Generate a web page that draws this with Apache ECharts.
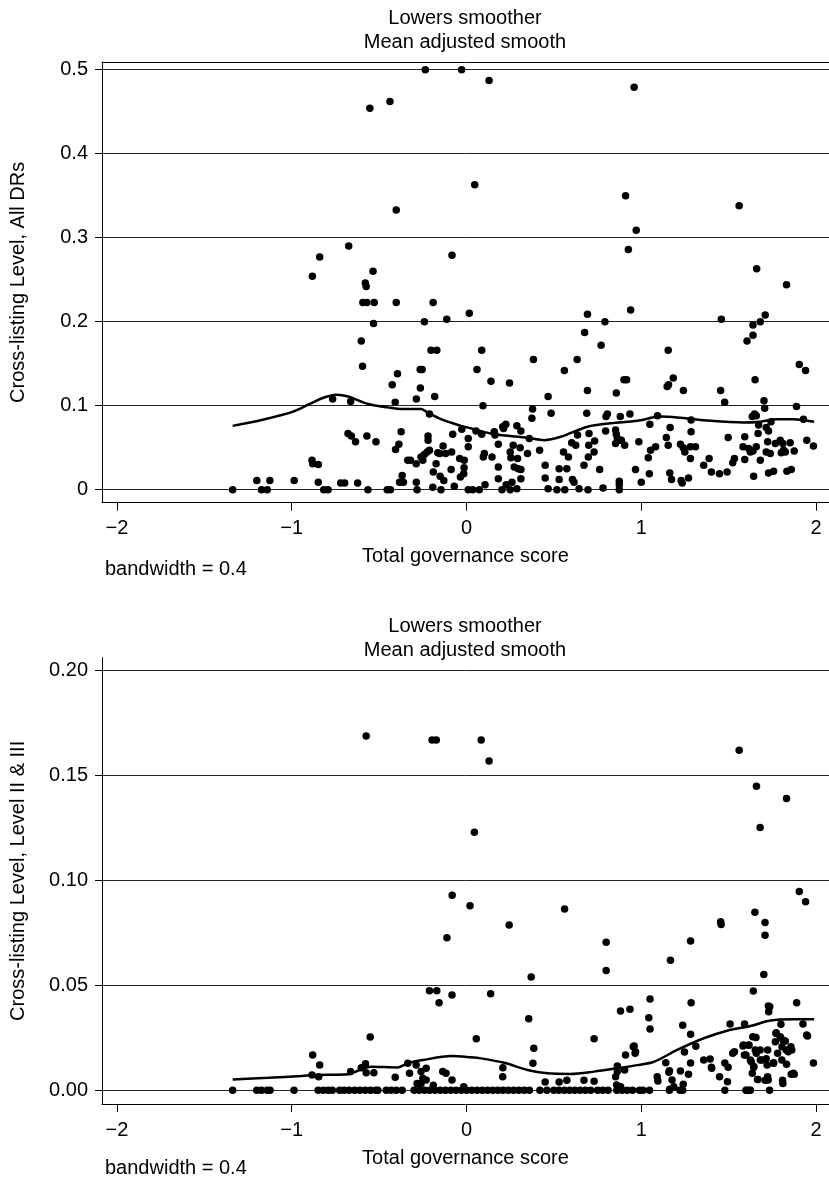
<!DOCTYPE html>
<html>
<head>
<meta charset="utf-8">
<title>Lowess smoother</title>
<script src="https://cdn.jsdelivr.net/npm/echarts@6/dist/echarts.min.js"></script>
<style>
  html, body { margin: 0; padding: 0; background: #fff; }
  #chart { width: 829px; height: 1183px; }
</style>
</head>
<body>
<div id="chart"></div>
<script>
// governance score (x) and cross-listing level, all DRs (y) - upper panel
const topX = [
  -1.338, -1.20, -1.173, -1.140, -1.125, -0.986, -0.882, -0.884, -0.880, -0.848,
  -0.848, -0.817, -0.792, -0.766, -0.720, -0.697, -0.678, -0.659, -0.663, -0.635,
  -0.623, -0.602, -0.595, -0.593, -0.570, -0.579, -0.574, -0.535, -0.528, -0.532,
  -0.570, -0.564, -0.518, -0.454, -0.435, -0.425, -0.408, -0.395, -0.402, -0.374,
  -0.387, -0.406, -0.368, -0.383, -0.361, -0.336, -0.321, -0.288, -0.287, -0.265,
  -0.254, -0.264, -0.287, -0.283, -0.260, -0.250, -0.241, -0.225, -0.212, -0.241,
  -0.220, -0.220, -0.212, -0.203, -0.170, -0.191, -0.182, -0.190, -0.174, -0.164,
  -0.193, -0.146, -0.151, -0.130, -0.134, -0.153, -0.119, -0.085, -0.113, -0.079,
  -0.039, -0.088, -0.070, -0.014, -0.035, -0.016, -0.027, 0.016, 0.010, 0.010,
  0.010, -0.013, 0.035, 0.073, 0.106, 0.054, 0.087, 0.102, 0.096, 0.146,
  0.159, 0.163, 0.182, 0.207, 0.225, 0.212, 0.182, 0.182, 0.203, 0.250,
  0.288, 0.227, 0.260, 0.250, 0.254, 0.267, 0.292, 0.307, 0.273, 0.296,
  0.311, 0.311, 0.288, 0.311, 0.349, 0.359, 0.418, 0.450, 0.450, 0.467,
  0.517, 0.562, 0.530, 0.530, 0.574, 0.555, 0.583, 0.602, 0.625, 0.635,
  0.606, 0.615, 0.644, 0.695, 0.672, 0.697, 0.730, 0.699, 0.701, 0.733,
  0.762, 0.781, 0.796, 0.853, 0.857, 0.863, 0.876, 0.853, 0.886, 0.905,
  0.874, 0.874, 0.874, 0.986, 0.967, 1.000, 1.046, 1.040, 1.053, 1.082,
  1.143, 1.154, 1.163, 1.173, 1.224, 1.240, 1.249, 1.281, 1.310, 1.281,
  1.228, 1.234, 1.270, 1.357, 1.388, 1.401, 1.447, 1.491, 1.497, 1.523,
  1.533, 1.592, 1.582, 1.592, 1.614, 1.639, 1.658, 1.624, 1.643, 1.668,
  1.671, 1.681, 1.715, 1.728, 1.723, 1.742, 1.715, 1.738, 1.728, 1.757,
  1.767, 1.795, 1.810, 1.824, 1.801, 1.852, 1.875, 1.814, 1.833, 1.858,
  1.947, 1.985, 0.087, 0.060, 0.140, 0.246, 0.094, 0.383, 0.467, 0.378,
  0.374, 0.484, 0.560, 0.633, 0.676, 0.692, 0.792, 0.770, 0.692, 0.688,
  0.857, 0.901, 0.916, 0.939, 0.798, 0.806, 0.880, 0.935, 1.154, 1.183,
  1.148, 1.156, 1.241, 1.093, 1.049, 1.165, 1.285, 1.285, 1.458, 1.454,
  1.477, 1.660, 1.831, 1.709, 1.681, 1.639, 1.639, 1.605, 1.651, 1.904,
  1.940, 1.702, 1.706, 1.648, 1.635, 1.658, 1.888, 1.928, -0.553, -0.438,
  -0.236, -0.028, 0.129, 0.959, 0.047, -0.402, 0.910, 1.560, 0.971, 0.926,
  -0.674, -0.840, -0.083
];
const topY = [
  0, 0.011, 0, 0, 0.011, 0.011, 0.254, 0.035, 0.031, 0.030,
  0.009, 0, 0, 0.108, 0.008, 0.008, 0.067, 0.064, 0.105, 0.057,
  0.008, 0.177, 0.147, 0.223, 0.223, 0.246, 0.242, 0.260, 0.223, 0.198,
  0.064, 0, 0.057, 0, 0, 0.125, 0.104, 0.138, 0.223, 0.069,
  0.054, 0.048, 0.017, 0.009, 0.009, 0.035, 0.035, 0.031, 0.108, 0.143,
  0.143, 0.121, 0.009, 0, 0.039, 0.035, 0.042, 0.045, 0.047, 0.200,
  0.064, 0.059, 0.090, 0.166, 0.166, 0.223, 0.111, 0.021, 0.031, 0.044,
  0.003, 0, 0.016, 0.011, 0.052, 0.043, 0.043, 0.045, 0.203, 0.066,
  0.037, 0.024, 0.004, 0.026, 0.015, 0.019, 0.072, 0.210, 0.061, 0.051,
  0, 0.035, 0, 0, 0.006, 0.070, 0.066, 0.043, 0.039, 0.039,
  0.069, 0.065, 0.054, 0.075, 0.078, 0.073, 0.027, 0.013, 0, 0,
  0.001, 0.006, 0.009, 0.045, 0.038, 0.053, 0.037, 0.050, 0.027, 0.025,
  0.024, 0.013, 0.076, 0.070, 0.043, 0.061, 0.047, 0.029, 0.014, 0.001,
  0, 0, 0.025, 0.012, 0.025, 0.045, 0.039, 0.056, 0.053, 0.065,
  0.012, 0.009, 0.001, 0, 0.029, 0.039, 0.045, 0.053, 0.067, 0.058,
  0.024, 0.002, 0.070, 0.071, 0.066, 0.061, 0.059, 0.055, 0.059, 0.053,
  0.010, 0.006, 0, 0.057, 0.024, 0.009, 0.019, 0.038, 0.047, 0.051,
  0.062, 0.053, 0.020, 0.012, 0.054, 0.050, 0.045, 0.051, 0.051, 0.037,
  0.011, 0.008, 0.014, 0.029, 0.037, 0.021, 0.019, 0.021, 0.062, 0.032,
  0.037, 0.063, 0.051, 0.036, 0.049, 0.046, 0.051, 0.045, 0.016, 0.067,
  0.077, 0.035, 0.074, 0.070, 0.057, 0.081, 0.045, 0.043, 0.020, 0.022,
  0.055, 0.059, 0.055, 0.045, 0.044, 0.056, 0.046, 0.047, 0.022, 0.024,
  0.059, 0.052, 0.166, 0.143, 0.129, 0.127, 0.100, 0.155, 0.111, 0.096,
  0.085, 0.091, 0.142, 0.155, 0.187, 0.209, 0.200, 0.172, 0.118, 0.091,
  0.115, 0.131, 0.131, 0.214, 0.087, 0.090, 0.087, 0.090, 0.166, 0.133,
  0.123, 0.125, 0.118, 0.088, 0.078, 0.074, 0.083, 0.069, 0.203, 0.118,
  0.104, 0.263, 0.244, 0.208, 0.200, 0.196, 0.184, 0.177, 0.131, 0.149,
  0.142, 0.106, 0.097, 0.090, 0.087, 0.088, 0.099, 0.084, 0.454, 0.462,
  0.500, 0.500, 0.487, 0.479, 0.363, 0.333, 0.350, 0.338, 0.309, 0.286,
  0.290, 0.277, 0.279
];
const smoothTopX = [-1.338, -1.173, -0.992, -0.888, -0.811, -0.745, -0.678, -0.564, -0.450, -0.374,
  -0.260, -0.231, -0.146, -0.031, 0.026, 0.159, 0.349, 0.444, 0.539, 0.692, 0.825, 0.977,
  1.110, 1.205, 1.396, 1.586, 1.681, 1.776, 1.871, 1.989];
const smoothTopY = [0.076, 0.083, 0.093, 0.103, 0.110, 0.113, 0.111, 0.102, 0.098, 0.096,
  0.096, 0.093, 0.084, 0.076, 0.073, 0.066, 0.062, 0.059, 0.063, 0.075, 0.079, 0.082,
  0.087, 0.086, 0.082, 0.080, 0.081, 0.084, 0.084, 0.081];

// lower panel: cross-listing level, Level II & III
// observations sitting on zero (x only)
const botZeroX = [
  -1.338, -1.200, -1.173, -1.140, -1.124, -0.987, -0.849, -0.819, -0.791, -0.768,
  -0.726, -0.700, -0.672, -0.640, -0.610, -0.580, -0.550, -0.520, -0.507, -0.459,
  -0.431, -0.402, -0.368, -0.300, -0.270, -0.240, -0.210, -0.180, -0.150, -0.120,
  -0.090, -0.060, -0.030, 0.000, 0.030, 0.060, 0.090, 0.120, 0.150, 0.180,
  0.210, 0.240, 0.270, 0.300, 0.330, 0.360, 0.420, 0.460, 0.500, 0.530,
  0.560, 0.590, 0.620, 0.650, 0.680, 0.710, 0.750, 0.780, 0.810, 0.860,
  0.890, 0.920, 0.950, 0.990, 1.010, 1.047, 1.161, 1.221, 1.237, 1.478,
  1.599, 1.620, 1.734, 1.605, 1.624
];
const botX = [
  -0.880, -0.840, -0.884, -0.846, -0.663, -0.602, -0.578, -0.574, -0.530, -0.551,
  -0.408, -0.336, -0.288, -0.326, -0.212, -0.170, -0.157, -0.083, -0.112, -0.260,
  -0.231, -0.250, -0.231, -0.283, -0.260, -0.190, -0.136, -0.117, -0.083, -0.016,
  -0.082, 0.020, 0.561, 0.244, 0.799, 0.799, 0.370, 1.167, 1.282, 1.454,
  1.457, 1.650, 1.708, 1.708, 1.701, 1.904, 1.940, 0.138, 1.050, 1.285,
  1.641, 1.889, 0.881, 0.935, 0.356, 1.043, 1.050, 1.237, 1.282, 1.735,
  1.729, 1.508, 1.638, 1.771, 1.810, 1.856, 1.925, 1.946, 1.985, 0.056,
  0.730, 0.385, 0.380, 0.959, 0.965, 0.910, 1.140, 1.158, 1.176, 1.282,
  1.312, 1.357, 1.394, 1.403, 1.523, 1.533, 1.448, 1.493, 1.584, 1.599,
  1.614, 1.629, 1.644, 1.635, 1.665, 1.689, 1.680, 1.720, 1.726, 1.756,
  1.780, 1.804, 1.831, 1.861, 1.870, 1.841, 1.478, 1.810, 0.208, 0.207,
  0.450, 0.530, 0.574, 0.672, 0.730, 0.954, 0.967, 0.863, 0.863, 0.853,
  0.905, 0.859, 0.882, 1.247, 1.270, 1.224, 1.240, 1.161, 1.091, 1.095,
  1.186, 1.163, 1.401, 1.497, 1.591, 1.590, 1.582, 1.616, 1.656, 1.652,
  1.658, 1.643, 1.668, 1.624, 1.681, 1.715, 1.723, 1.757, 1.723, 1.709,
  1.727, 1.799, 1.772, 1.767, 1.795, 1.824, 1.805, 1.829, 1.808, 1.858,
  1.875, 1.951, -0.574, -0.197, -0.173, 0.084, 0.129, 0.045, 1.560, 1.659,
  1.831, 1.680
];
const botY = [
  0.0168, 0.0120, 0.0073, 0.0065, 0.0089, 0.0107, 0.0126, 0.0084, 0.0084, 0.0254,
  0.0062, 0.0129, 0.0121, 0.0081, 0.0474, 0.0474, 0.0417, 0.0454, 0.0727, 0.0089,
  0.0105, 0.0057, 0.0049, 0.0033, 0.0033, 0.0024, 0.0089, 0.0081, 0.0049, 0.0017,
  0.0929, 0.0879, 0.0863, 0.0787, 0.0705, 0.0570, 0.0540, 0.0619, 0.0711, 0.0803,
  0.0790, 0.0848, 0.0799, 0.0738, 0.0552, 0.0947, 0.0898, 0.0460, 0.0435, 0.0417,
  0.0473, 0.0417, 0.0378, 0.0386, 0.0341, 0.0346, 0.0292, 0.0310, 0.0267, 0.0398,
  0.0374, 0.0316, 0.0255, 0.0271, 0.0240, 0.0208, 0.0316, 0.0263, 0.0130, 0.0246,
  0.0246, 0.0200, 0.0129, 0.0211, 0.0176, 0.0168, 0.0131, 0.0086, 0.0049, 0.0130,
  0.0210, 0.0144, 0.0149, 0.0105, 0.0176, 0.0184, 0.0065, 0.0041, 0.0216, 0.0168,
  0.0216, 0.0136, 0.0113, 0.0081, 0.0052, 0.0144, 0.0192, 0.0120, 0.0049, 0.0129,
  0.0176, 0.0144, 0.0124, 0.0192, 0.0081, 0.0184, 0.0130, 0.0033, 0.0108, 0.0065,
  0.0040, 0.0040, 0.0048, 0.0048, 0.0043, 0.0208, 0.0184, 0.0116, 0.0089, 0.0065,
  0.0097, 0.0025, 0.0017, 0.0183, 0.0076, 0.0092, 0.0029, 0.0093, 0.0065, 0.0044,
  0.0017, 0.0005, 0.0110, 0.0110, 0.0316, 0.0168, 0.0211, 0.0214, 0.0252, 0.0192,
  0.0176, 0.0110, 0.0052, 0.0144, 0.0144, 0.0150, 0.0192, 0.0131, 0.0065, 0.0048,
  0.0402, 0.0314, 0.0274, 0.0231, 0.0255, 0.0235, 0.0208, 0.0192, 0.0048, 0.0076,
  0.0076, 0.0259, 0.1687, 0.1668, 0.1668, 0.1668, 0.1568, 0.1229, 0.1619, 0.1448,
  0.1389, 0.1252
];
const smoothBotX = [-1.338, -1.135, -0.945, -0.849, -0.678, -0.612, -0.545, -0.393, -0.336, -0.250,
  -0.088, 0.026, 0.083, 0.216, 0.349, 0.463, 0.596, 0.730, 0.863, 0.977, 1.072, 1.205,
  1.357, 1.491, 1.624, 1.738, 1.871, 1.989];
const smoothBotY = [0.0052, 0.0060, 0.0068, 0.0073, 0.0076, 0.0097, 0.0112, 0.0109, 0.0129, 0.0144,
  0.0163, 0.0157, 0.0152, 0.0131, 0.0097, 0.0081, 0.0078, 0.0089, 0.0105, 0.0120, 0.0136, 0.0192,
  0.0248, 0.0284, 0.0306, 0.0332, 0.0338, 0.0338];

const xTicks = [-2, -1, 0, 1, 2];
const topTicks = [0, 0.1, 0.2, 0.3, 0.4, 0.5];
const botTicks = [0, 0.05, 0.10, 0.15, 0.20];

const FONT = 'Liberation Sans, Arial, Helvetica, sans-serif';
const X_MIN = -2.0856, X_MAX = 2.074;

function pairs(xs, ys) {
  return xs.map((x, i) => [x, ys[i]]);
}

function bottomAxis(grid) {
  return {
    gridIndex: grid, type: 'value', min: X_MIN, max: X_MAX,
    axisLine: { show: true, onZero: false, lineStyle: { color: '#000', width: 1 } },
    axisTick: { show: true, customValues: xTicks, length: 8, lineStyle: { color: '#000' } },
    axisLabel: {
      customValues: xTicks, color: '#000', fontSize: 20, fontFamily: FONT, margin: 16,
      formatter: v => String(v).replace('-', '\u2212')
    },
    splitLine: { show: false },
    name: 'Total governance score', nameLocation: 'middle', nameGap: 44,
    nameTextStyle: { color: '#000', fontSize: 20, fontFamily: FONT }
  };
}

// plain line along the top of the upper plot region
function topLine(grid) {
  return {
    gridIndex: grid, type: 'value', position: 'top', min: X_MIN, max: X_MAX,
    axisLine: { show: true, onZero: false, lineStyle: { color: '#000', width: 1 } },
    axisTick: { show: false }, axisLabel: { show: false }, splitLine: { show: false }
  };
}

function leftAxis(grid, min, max, ticks, digits, title) {
  return {
    gridIndex: grid, type: 'value', min: min, max: max,
    axisLine: { show: true, onZero: false, lineStyle: { color: '#000', width: 1 } },
    axisTick: { show: true, customValues: ticks, length: 7, lineStyle: { color: '#000' } },
    axisLabel: {
      customValues: ticks, color: '#000', fontSize: 20, fontFamily: FONT, margin: 14,
      formatter: v => (digits === 1 && v === 0) ? '0' : v.toFixed(digits)
    },
    splitLine: { show: true, lineStyle: { color: '#222', width: 1 } },
    name: title, nameLocation: 'middle', nameGap: 74,
    nameTextStyle: { color: '#000', fontSize: 20, fontFamily: FONT }
  };
}

const chart = echarts.init(document.getElementById('chart'), null, { renderer: 'canvas' });

const titleStyle = { color: '#000', fontSize: 20, fontWeight: 'normal', fontFamily: FONT, lineHeight: 24 };
const dotStyle = { color: '#000', opacity: 1 };

chart.setOption({
  animation: false,
  backgroundColor: '#fff',
  title: [
    { text: 'Lowers smoother\nMean adjusted smooth', left: 465, top: 6, padding: 0, textAlign: 'center', textStyle: titleStyle },
    { text: 'Lowers smoother\nMean adjusted smooth', left: 465, top: 614, padding: 0, textAlign: 'center', textStyle: titleStyle }
  ],
  grid: [
    { left: 100, top: 62, width: 729, height: 440.7, containLabel: false },
    { left: 100, top: 657.7, width: 729, height: 446.3, containLabel: false }
  ],
  xAxis: [bottomAxis(0), topLine(0), bottomAxis(1)],
  yAxis: [
    leftAxis(0, -0.01548, 0.50917, topTicks, 1, 'Cross-listing Level, All DRs'),
    leftAxis(1, -0.00652, 0.206, botTicks, 2, 'Cross-listing Level, Level II & III')
  ],
  graphic: [
    { type: 'text', left: 105, top: 559, style: { text: 'bandwidth = 0.4', fill: '#000', font: '20px ' + FONT } },
    { type: 'text', left: 105, top: 1158, style: { text: 'bandwidth = 0.4', fill: '#000', font: '20px ' + FONT } }
  ],
  series: [
    {
      type: 'scatter', xAxisIndex: 0, yAxisIndex: 0, data: pairs(topX, topY),
      symbol: 'circle', symbolSize: 7.5, itemStyle: dotStyle
    },
    {
      type: 'line', xAxisIndex: 0, yAxisIndex: 0, data: pairs(smoothTopX, smoothTopY),
      showSymbol: false, smooth: 0.3, lineStyle: { color: '#000', width: 2.5 }
    },
    {
      type: 'scatter', xAxisIndex: 2, yAxisIndex: 1,
      data: botZeroX.map(x => [x, 0]).concat(pairs(botX, botY)),
      symbol: 'circle', symbolSize: 7.5, itemStyle: dotStyle
    },
    {
      type: 'line', xAxisIndex: 2, yAxisIndex: 1, data: pairs(smoothBotX, smoothBotY),
      showSymbol: false, smooth: 0.3, lineStyle: { color: '#000', width: 2.5 }
    }
  ]
});
</script>
</body>
</html>
